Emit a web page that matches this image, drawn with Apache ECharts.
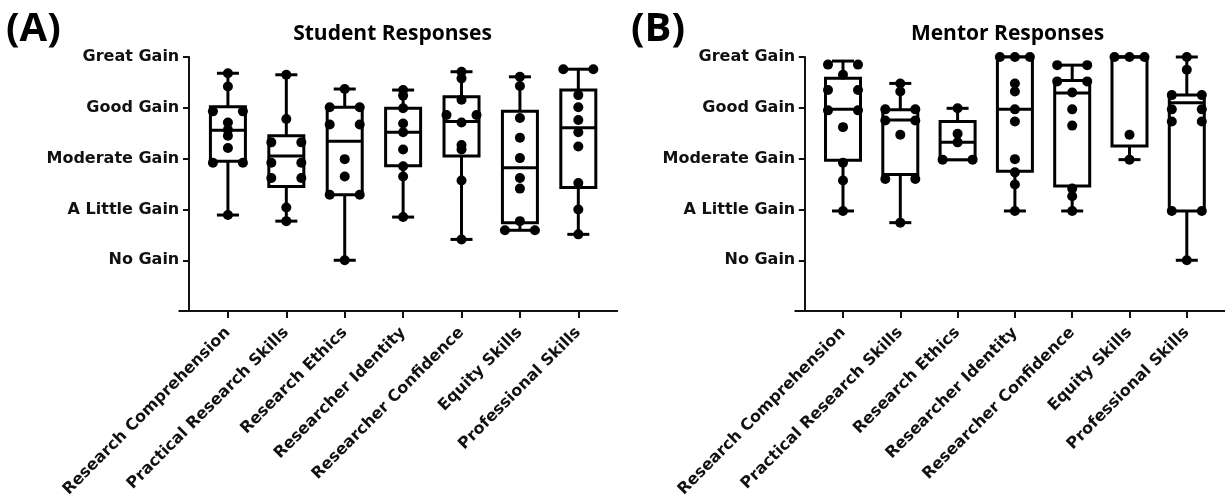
<!DOCTYPE html>
<html><head><meta charset="utf-8">
<script src="https://cdn.jsdelivr.net/npm/echarts@6/dist/echarts.min.js"></script>
<style>html,body{margin:0;padding:0;background:#fff}#c{width:1225px;height:500px}</style>
</head><body><div id="c"></div>
<script>
// ---------- data ----------
const categories = ['Research Comprehension', 'Practical Research Skills', 'Research Ethics', 'Researcher Identity', 'Researcher Confidence', 'Equity Skills', 'Professional Skills'];
const gainLabels = ['', 'No Gain', 'A Little Gain', 'Moderate Gain', 'Good Gain', 'Great Gain'];
const panelTitles = ['Student Responses', 'Mentor Responses'];
const panelLetters = ['(A)', '(B)'];

// box statistics per category: [min, Q1, median, Q3, max]  (1 = No Gain ... 5 = Great Gain)
const studentBoxes = [
  [1.89, 2.95, 3.56, 4.02, 4.68],
  [1.77, 2.45, 3.05, 3.45, 4.65],
  [1.00, 2.29, 3.34, 4.01, 4.37],
  [1.85, 2.86, 3.52, 3.99, 4.35],
  [1.41, 3.05, 3.73, 4.22, 4.71],
  [1.59, 1.74, 2.82, 3.93, 4.61],
  [1.51, 2.43, 3.61, 4.35, 4.76]
];
const mentorBoxes = [
  [1.97, 2.97, 3.97, 4.58, 4.92],
  [1.74, 2.69, 3.76, 3.96, 4.48],
  [2.98, 2.98, 3.32, 3.73, 3.99],
  [1.97, 2.75, 3.97, 5.00, 5.00],
  [1.97, 2.46, 4.29, 4.54, 4.84],
  [2.98, 3.25, 5.00, 5.00, 5.00],
  [1.00, 1.97, 4.10, 4.25, 5.00]
];
// individual responses per category
const studentPoints = [
  [4.68, 4.42, 3.93, 3.93, 3.71, 3.57, 3.45, 3.21, 2.92, 2.92, 1.89],
  [4.65, 3.78, 3.32, 3.32, 2.92, 2.92, 2.62, 2.62, 2.04, 1.77],
  [4.37, 4.01, 4.01, 3.67, 3.67, 2.99, 2.65, 2.29, 2.29, 1.00],
  [4.35, 4.24, 3.99, 3.69, 3.52, 3.18, 2.85, 2.65, 1.85],
  [4.71, 4.58, 4.16, 3.86, 3.86, 3.71, 3.27, 3.18, 2.57, 1.41],
  [4.61, 4.43, 3.80, 3.41, 3.01, 2.62, 2.41, 1.77, 1.59, 1.59],
  [4.76, 4.76, 4.25, 4.01, 3.76, 3.52, 3.24, 2.52, 2.00, 1.51]
];
const mentorPoints = [
  [4.85, 4.85, 4.65, 4.35, 4.35, 3.95, 3.95, 3.62, 2.92, 2.57, 1.97],
  [4.48, 4.32, 3.97, 3.97, 3.75, 3.75, 3.47, 2.60, 2.60, 1.74],
  [3.99, 3.49, 3.32, 2.98, 2.98],
  [5.00, 5.00, 5.00, 4.48, 4.32, 3.97, 3.73, 2.99, 2.73, 2.49, 1.97],
  [4.84, 4.84, 4.52, 4.52, 4.30, 3.97, 3.65, 2.41, 2.26, 1.97],
  [5.00, 5.00, 5.00, 3.47, 2.98],
  [5.00, 4.75, 4.25, 4.25, 3.97, 3.97, 3.73, 3.73, 1.97, 1.97, 1.00]
];

// ---------- layout helpers ----------
const CAT0 = 4, STEP = 6;              // category positions on the x value axis
const catPos = categories.map((_, i) => CAT0 + STEP * i);
const INK = '#111';
const LABEL_FONT = 'DejaVu Sans';

function swarm(points, i) {
  const groups = new Map();
  points.forEach(v => { const k = v.toFixed(2); groups.set(k, (groups.get(k) || 0) + 1); });
  const out = [];
  groups.forEach((n, k) => {
    const slots = n % 2 ? [0] : [];
    for (let s = 1; slots.length < n; s++) slots.push(-15 * s, 15 * s);
    for (let j = 0; j < n; j++) out.push({ value: [catPos[i], +k], symbolOffset: [slots[j], 0] });
  });
  return out;
}

function renderBox(params, api) {
  const x = api.value(0);
  const v = [1, 2, 3, 4, 5].map(d => api.value(d));
  const p = v.map(val => api.coord([x, val]));
  const cx = p[2][0], hw = 17.5, cw = 11;
  const ls = { stroke: '#000', lineWidth: 3, lineCap: 'butt' };
  return {
    type: 'group',
    children: [
      { type: 'line', shape: { x1: cx, y1: p[3][1], x2: cx, y2: p[4][1] }, style: ls },
      { type: 'line', shape: { x1: cx, y1: p[1][1], x2: cx, y2: p[0][1] }, style: ls },
      { type: 'line', shape: { x1: cx - cw, y1: p[4][1], x2: cx + cw, y2: p[4][1] }, style: ls },
      { type: 'line', shape: { x1: cx - cw, y1: p[0][1], x2: cx + cw, y2: p[0][1] }, style: ls },
      { type: 'rect', shape: { x: cx - hw, y: p[3][1], width: 2 * hw, height: p[1][1] - p[3][1] }, style: { stroke: '#000', lineWidth: 3, fill: '#fff' } },
      { type: 'line', shape: { x1: cx - hw, y1: p[2][1], x2: cx + hw, y2: p[2][1] }, style: ls }
    ]
  };
}

const gridLefts = [179.25, 795.25];
const axisLineStyle = { color: INK, width: 2 };

const option = {
  animation: false,
  backgroundColor: '#fff',
  grid: gridLefts.map(l => ({ left: l, top: 57, width: 438, height: 255, containLabel: false })),
  xAxis: gridLefts.map((_, g) => ({
    type: 'value', gridIndex: g, min: -1, max: 44,
    splitLine: { show: false },
    axisLine: { show: true, onZero: true, lineStyle: axisLineStyle },
    axisTick: { show: true, customValues: catPos, length: 7, lineStyle: axisLineStyle },
    axisLabel: {
      customValues: catPos, rotate: 45, margin: 19,
      formatter: val => categories[Math.round((val - CAT0) / STEP)] || '',
      fontFamily: LABEL_FONT, fontWeight: 'bold', fontSize: 16, color: INK
    }
  })),
  yAxis: gridLefts.map((_, g) => ({
    type: 'value', gridIndex: g, min: 0, max: 5, interval: 1,
    splitLine: { show: false },
    axisLine: { show: true, onZero: true, lineStyle: axisLineStyle },
    axisTick: { show: true, length: 6, lineStyle: axisLineStyle },
    axisLabel: {
      margin: 0, formatter: val => gainLabels[Math.round(val)] || '',
      fontFamily: LABEL_FONT, fontWeight: 'bold', fontSize: 16, color: INK
    }
  })),
  graphic: [
    { type: 'text', left: 6, top: 10, style: { text: panelLetters[0], font: 'bold 40px "Open Sans"', fill: '#000' } },
    { type: 'text', left: 631, top: 10, style: { text: panelLetters[1], font: 'bold 40px "Open Sans"', fill: '#000' } },
    { type: 'text', x: 392.5, y: 34, style: { text: panelTitles[0], font: 'bold 21px "Open Sans"', fill: '#000', textAlign: 'center', textVerticalAlign: 'middle' } },
    { type: 'text', x: 1007.5, y: 34, style: { text: panelTitles[1], font: 'bold 21px "Open Sans"', fill: '#000', textAlign: 'center', textVerticalAlign: 'middle' } }
  ],
  series: []
};

[[studentBoxes, studentPoints], [mentorBoxes, mentorPoints]].forEach(([boxes, pts], g) => {
  option.series.push({
    type: 'custom', xAxisIndex: g, yAxisIndex: g, z: 2,
    renderItem: renderBox,
    encode: { x: 0, y: [1, 2, 3, 4, 5] },
    data: boxes.map((b, i) => [catPos[i]].concat(b))
  });
  option.series.push({
    type: 'scatter', xAxisIndex: g, yAxisIndex: g, z: 3,
    symbol: 'circle', symbolSize: 10,
    itemStyle: { color: '#000', opacity: 1 },
    data: pts.flatMap((arr, i) => swarm(arr, i))
  });
});

const chart = echarts.init(document.getElementById('c'), null, { renderer: 'canvas' });
chart.setOption(option);
</script>
</body></html>
